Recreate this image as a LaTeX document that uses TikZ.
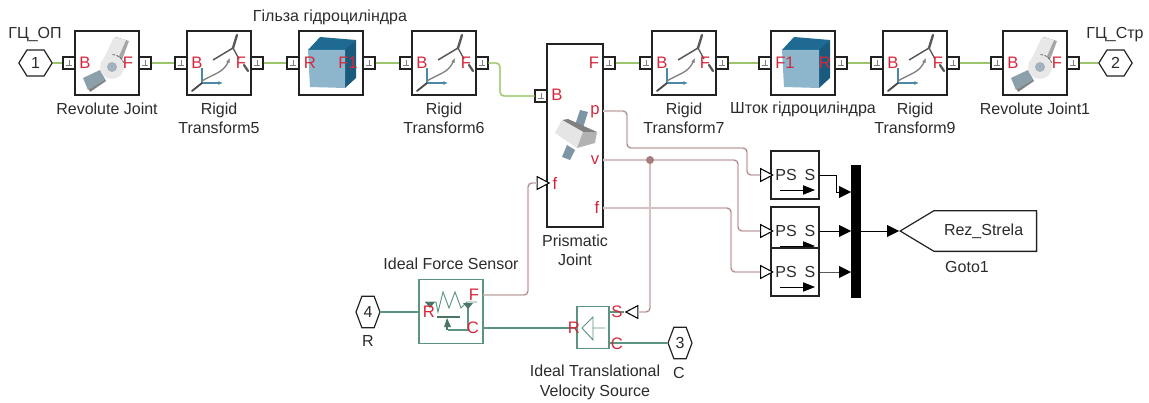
\documentclass[tikz,border=0pt]{standalone}
\usepackage{fontspec}
\setmainfont{Liberation Sans}
\usetikzlibrary{shapes.geometric,shapes.symbols,arrows.meta,shadows}
\definecolor{redtxt}{HTML}{D5283C}
\definecolor{txt}{HTML}{2B2B2B}
\definecolor{mechc}{HTML}{9CC56C}
\definecolor{sigc}{HTML}{A67C7C}
\definecolor{sigh}{HTML}{F0E8E8}
\definecolor{transc}{HTML}{5C9480}
\definecolor{edgec}{HTML}{222222}
\definecolor{cubefront}{HTML}{8DB6CC}
\definecolor{cubedark}{HTML}{1F6A92}
\definecolor{armc}{HTML}{8CA0AC}
\definecolor{rodc}{HTML}{7D95A5}
\tikzset{
  base/.style={font=\fontsize{12}{14.6}\selectfont,text=txt},
  lab/.style={base,align=center,inner sep=0pt},
  redl/.style={font=\fontsize{12.5}{14}\selectfont,text=redtxt,inner sep=0pt},
  block/.style={draw=edgec,fill=white,line width=1.1pt,minimum width=48pt,minimum height=48pt,inner sep=0pt,
     drop shadow={shadow xshift=1pt,shadow yshift=-1pt,fill=black,opacity=.28}},
  tallblock/.style={block,minimum width=42pt,minimum height=137pt},
  psblock/.style={block,minimum width=36pt,minimum height=36pt},
  simblock/.style={draw=transc,fill=white,line width=.9pt,inner sep=0pt},
  port/.style={draw=edgec,fill=white,line width=.8pt,minimum size=9pt,inner sep=0pt,
     path picture={\draw[gray,line width=.5pt]
       ([xshift=-2.5pt,yshift=-1.5pt]path picture bounding box.center) -- ([xshift=2.5pt,yshift=-1.5pt]path picture bounding box.center)
       ([yshift=-1.5pt]path picture bounding box.center) -- ([yshift=2pt]path picture bounding box.center);}},
  hexh/.style={draw=edgec,fill=white,line width=.9pt,base,inner sep=0pt,shape=signal,signal to=east and west,
     signal pointer angle=116,minimum width=25pt,minimum height=19.5pt},
  hexv/.style={draw=edgec,fill=white,line width=.9pt,base,inner sep=0pt,shape=signal,signal to=east and west,
     signal pointer angle=139,minimum width=18pt,minimum height=23.5pt},
  opentri/.style={draw=black,fill=white,line width=.8pt,shape=isosceles triangle,isosceles triangle stretches,
     minimum width=9.5pt,minimum height=9pt,inner sep=0pt},
  mech/.style={draw=mechc,line width=.9pt,rounded corners=3pt,preaction={draw=mechc!30,line width=1.6pt}},
  sigl/.style={draw=sigc,line width=.65pt,rounded corners=3pt,preaction={draw=sigh,line width=1.8pt}},
  trans/.style={draw=transc,line width=.9pt},
  blk/.style={draw=black,line width=.7pt,-{Triangle[length=9pt,width=9pt,color=black]}},
  rigidicon/.pic={
    \draw[draw=cubedark!80,line width=.8pt] (15,52)--(15,37);
    \draw[draw=cubedark!80,line width=.8pt,-{Latex[length=3.5pt,width=3pt]}] (15,52)--(36,52);
    \draw[line width=1.4pt,draw=black!70,line cap=round] (15,52)--(5,60);
    \draw[line width=1pt,draw=gray,-{Latex[length=3.5pt,width=3pt]}] (15,50) .. controls (28,42) and (36,42) .. (43,27);
    \draw[line width=1.1pt,draw=black!65] (26,29)--(46,17);
    \draw[line width=1.8pt,draw=black!65,line cap=round] (50,4)--(46,17);
    \draw[line width=1pt,draw=black!65] (46,17)--(52,28);
    \draw[line width=1.7pt,draw=black!65,line cap=round] (57,34)--(61,40);
  },
  revicon/.pic={
    \fill[gray!70] (41,6)--(54,10)--(45,34)--(34,30)--cycle;
    \fill[black!9] (39,6)--(51,9)--(41,32)--(29,27)--cycle;
    \fill[black!50] (11,51)--(27,43)--(31,50)--(15,61)--cycle;
    \fill[armc] (8,47)--(25,39)--(30,49)--(13,59)--cycle;
    \fill[black!9] (37,36) circle[radius=12];
    \draw[black!60,line width=.6pt,dash pattern=on 2pt off 1pt] (37,36) ++(-20:12.5) arc[start angle=-20,end angle=-90,radius=12.5];
    \fill[armc!80] (37,36) circle[radius=5];
  },
  cubeicon/.pic={
    \fill[cubedark] (9,19)--(21,6)--(57,9)--(46,21)--cycle;
    \fill[cubedark!85!black] (46,19)--(57,9)--(57,47)--(46,57)--cycle;
    \fill[cubefront] (9,19)--(46,19)--(46,57)--(11,56)--cycle;
  },
  prisicon/.pic={
    \fill[rodc] (580,110)--(588,112)--(583,128)--(575,125)--cycle;
    \fill[black!50] (562,120)--(568,119)--(597,132)--(583,132)--cycle;
    \fill[rodc] (567,145)--(575,150)--(570,160)--(562,157)--cycle;
    \fill[black!10] (562,120)--(583,132)--(577,148)--(555,133)--cycle;
    \fill[black!30] (583,132)--(597,132)--(595,143)--(577,148)--cycle;
  },
  psicon/.pic={
    \node[base,inner sep=0pt] (-p) at (15,24) {PS};
    \node[base,inner sep=0pt] (-s) at (39,24) {S};
    \draw[draw=black,line width=.6pt,-{Triangle[length=9pt,width=7pt]}] (9,39)--(44,39);
  },
}
\begin{document}
\begin{tikzpicture}[x=0.75pt,y=-0.75pt]
\useasboundingbox (0,0) rectangle (1149,403);
% blocks
\node[block] (rev) at (107,63) {};
\node[block] (rt5) at (219,63) {};
\node[block] (sol1) at (331,63) {};
\node[block] (rt6) at (444,63) {};
\node[tallblock] (pri) at (575,135.5) {};
\node[block] (rt7) at (684,63) {};
\node[block] (sol2) at (803,63) {};
\node[block] (rt9) at (915,63) {};
\node[block] (rev1) at (1035,63) {};
% icons
\pic at (75,31) {revicon};
\pic at (1003,31) {revicon};
\pic at (187,31) {rigidicon};
\pic at (412,31) {rigidicon};
\pic at (652,31) {rigidicon};
\pic at (883,31) {rigidicon};
\pic at (299,31) {cubeicon};
\pic at (773,31) {cubeicon};
\pic at (0,0) {prisicon};
% ports
\node[hexh] (h1) at (35.5,63) {1};
\node[hexh] (h2) at (1115.5,63) {2};
\node[port] (a1) at (69,63) {};
\node[port] (a2) at (145,63) {};
\node[port] (b1) at (181,63) {};
\node[port] (b2) at (257,63) {};
\node[port] (c1) at (293,63) {};
\node[port] (c2) at (369,63) {};
\node[port] (d1) at (406,63) {};
\node[port] (d2) at (482,63) {};
\node[port] (e1) at (541,96) {};
\node[port] (e2) at (609,63) {};
\node[port] (f1) at (646,63) {};
\node[port] (f2) at (722,63) {};
\node[port] (g1) at (765,63) {};
\node[port] (g2) at (841,63) {};
\node[port] (i1) at (877,63) {};
\node[port] (i2) at (953,63) {};
\node[port] (j1) at (997,63) {};
\node[port] (j2) at (1073,63) {};
% mechanical connectors
\draw[mech] (h1.east) -- (a1);
\draw[mech] (a2) -- (b1);
\draw[mech] (b2) -- (c1);
\draw[mech] (c2) -- (d1);
\coordinate (k0) at (500,63);
\draw[mech] (d2) -| (k0 |- e1) -- (e1);
\draw[mech] (e2) -- (f1);
\draw[mech] (f2) -- (g1);
\draw[mech] (g2) -- (i1);
\draw[mech] (i2) -- (j1);
\draw[mech] (j2) -- (h2.west);
% lower Simscape blocks
\node[simblock,minimum width=48pt,minimum height=48.5pt] (sen) at (451,311.5) {};
\node[simblock,minimum width=24pt,minimum height=32pt] (vel) at (593,327.5) {};
\node[hexv] (h4) at (368,312) {4};
\node[hexv] (h3) at (680,343) {3};
% sensor icon
\draw[draw=transc,line width=.7pt] (425,302)--(436,302)--(438,312)--(443,292)--(449,308)--(455,292)--(461,308)--(467,302)--(477,302);
\draw[draw=transc!80!black,line width=2.2pt] (437,317)--(460,317);
\draw[draw=transc,line width=.8pt] (448,330)--(468,330)--(468,303);
\fill[transc!80!black] (447,318)--(451,327)--(444,327)--cycle;
\draw[draw=transc!80!black,line width=.8pt] (447,320)--(447,330);
\fill[transc!80!black] (463,303)--(473,303)--(468,309)--cycle;
\fill[transc!80!black] (425,302)--(435,302)--(430,308)--cycle;
% velocity icon
\draw[draw=transc,line width=.7pt] (593,317)--(582,328)--(593,340)--cycle (593,328)--(605,328);
% PS converters
\node[psblock] (ps1) at (795,175) {};
\pic (pa) at (771,151) {psicon};
\node[psblock] (ps2) at (795,231) {};
\pic (pb) at (771,207) {psicon};
\node[psblock] (ps3) at (795,272) {};
\pic (pc) at (771,248) {psicon};
\node[draw=black,fill=black,minimum width=6.5pt,minimum height=99pt,inner sep=0pt,
  drop shadow={shadow xshift=1pt,shadow yshift=-1pt,fill=black,opacity=.25}] (mux) at (855.5,231) {};
\node[draw=edgec,fill=white,line width=.9pt,base,inner sep=0pt,shape=signal,signal to=west,signal from=nowhere,
  signal pointer angle=62,minimum height=30.5pt,anchor=west,
  drop shadow={shadow xshift=.8pt,shadow yshift=-.8pt,fill=black,opacity=.25}] (goto) at (899,231) {\hspace*{7.5pt}Rez\_Strela\hspace*{10pt}};
% open triangles
\node[opentri] (t1) at (764.5,175) {};
\node[opentri] (t2) at (764.5,231) {};
\node[opentri] (t3) at (764.5,272) {};
\node[opentri] (t4) at (541,183) {};
\node[opentri,shape border rotate=180] (t5) at (634,312) {};
% signal connectors
\coordinate (p1) at (627,111);
\coordinate (p2) at (747,148);
\draw[sigl] (603,111) -- (p1) |- (p2) |- (t1.west);
\coordinate (q1) at (738,160);
\coordinate (jn) at (650,160);
\draw[sigl] (603,160) -- (q1) |- (t2.west);
\coordinate (r1) at (731,208);
\draw[sigl] (603,208) -- (r1) |- (t3.west);
\draw[sigl] (jn) -- (jn |- t5.east) -- (t5.east);
\fill[sigc] (jn) circle[radius=4];
\coordinate (s1) at (528,295);
\draw[sigl] (sen.east |- s1) -- (s1) |- (t4.west);
% transl connectors
\draw[trans] (h4.east) -- (sen.west |- h4.east);
\draw[trans] (sen.east |- 0,328) -- (vel.west |- 0,328);
\draw[trans] (vel.east |- h3.west) -- (h3.west);
\draw[trans] (vel.east |- t5.west) -- (t5.west);
% black connectors
\coordinate (k1) at (836,192);
\coordinate (m1) at (851,192);
\coordinate (m2) at (851,231);
\coordinate (m3) at (851,272);
\draw[blk] (ps1.east) -| (k1) -- (m1);
\draw[blk] (ps2.east) -- (m2);
\draw[blk,draw=black!65] (ps3.east) -- (m3);
\draw[blk] (mux.east |- goto.west) -- (goto.west);
% red port labels
\node[redl] (n1) at (85,63) {B};
\node[redl] (n2) at (128,63) {F};
\node[redl] (n3) at (197,63) {B};
\node[redl] (n4) at (241,63) {F};
\node[redl] (n5) at (310,63) {R};
\node[redl] (n6) at (348,63) {F1};
\node[redl] (n7) at (422,63) {B};
\node[redl] (n8) at (466,63) {F};
\node[redl] (n9) at (557,95) {B};
\node[redl] (n10) at (594,63) {F};
\node[redl] (n11) at (595,112) {p};
\node[redl] (n12) at (595,160) {v};
\node[redl] (n13) at (555,183) {f};
\node[redl] (n14) at (597,207) {f};
\node[redl] (n15) at (662,63) {B};
\node[redl] (n16) at (705,63) {F};
\node[redl] (n17) at (785,63) {F1};
\node[redl] (n18) at (825,63) {R};
\node[redl] (n19) at (893,63) {B};
\node[redl] (n20) at (938,63) {F};
\node[redl] (n21) at (1013,63) {B};
\node[redl] (n22) at (1057,63) {F};
\node[redl] (n23) at (429,312) {R};
\node[redl] (n24) at (474,295) {F};
\node[redl] (n25) at (473,328) {C};
\node[redl] (n26) at (574,328) {R};
\node[redl] (n27) at (617,312) {S};
\node[redl] (n28) at (617,344) {C};
% captions
\node[lab] (l1) at (35,35) {ГЦ\_ОП};
\node[lab] (l2) at (1115,35) {ГЦ\_Стр};
\node[lab] (l3) at (330,17) {Гільза гідроциліндра};
\node[lab] (l4) at (107,109) {Revolute Joint};
\node[lab] (l5) at (219,118.5) {Rigid\\Transform5};
\node[lab] (l6) at (444,118.5) {Rigid\\Transform6};
\node[lab] (l7) at (575,250.5) {Prismatic\\Joint};
\node[lab] (l8) at (684,118.5) {Rigid\\Transform7};
\node[lab] (l9) at (803,109) {Шток гідроциліндра};
\node[lab] (l10) at (915,118.5) {Rigid\\Transform9};
\node[lab] (l11) at (1035,109) {Revolute Joint1};
\node[lab] (l12) at (451,264) {Ideal Force Sensor};
\node[lab] (l13) at (368,341) {R};
\node[lab] (l14) at (595,382.5) {Ideal Translational\\Velocity Source};
\node[lab] (l15) at (679,373) {C};
\node[lab] (l16) at (967,267) {Goto1};
\end{tikzpicture}
\end{document}
